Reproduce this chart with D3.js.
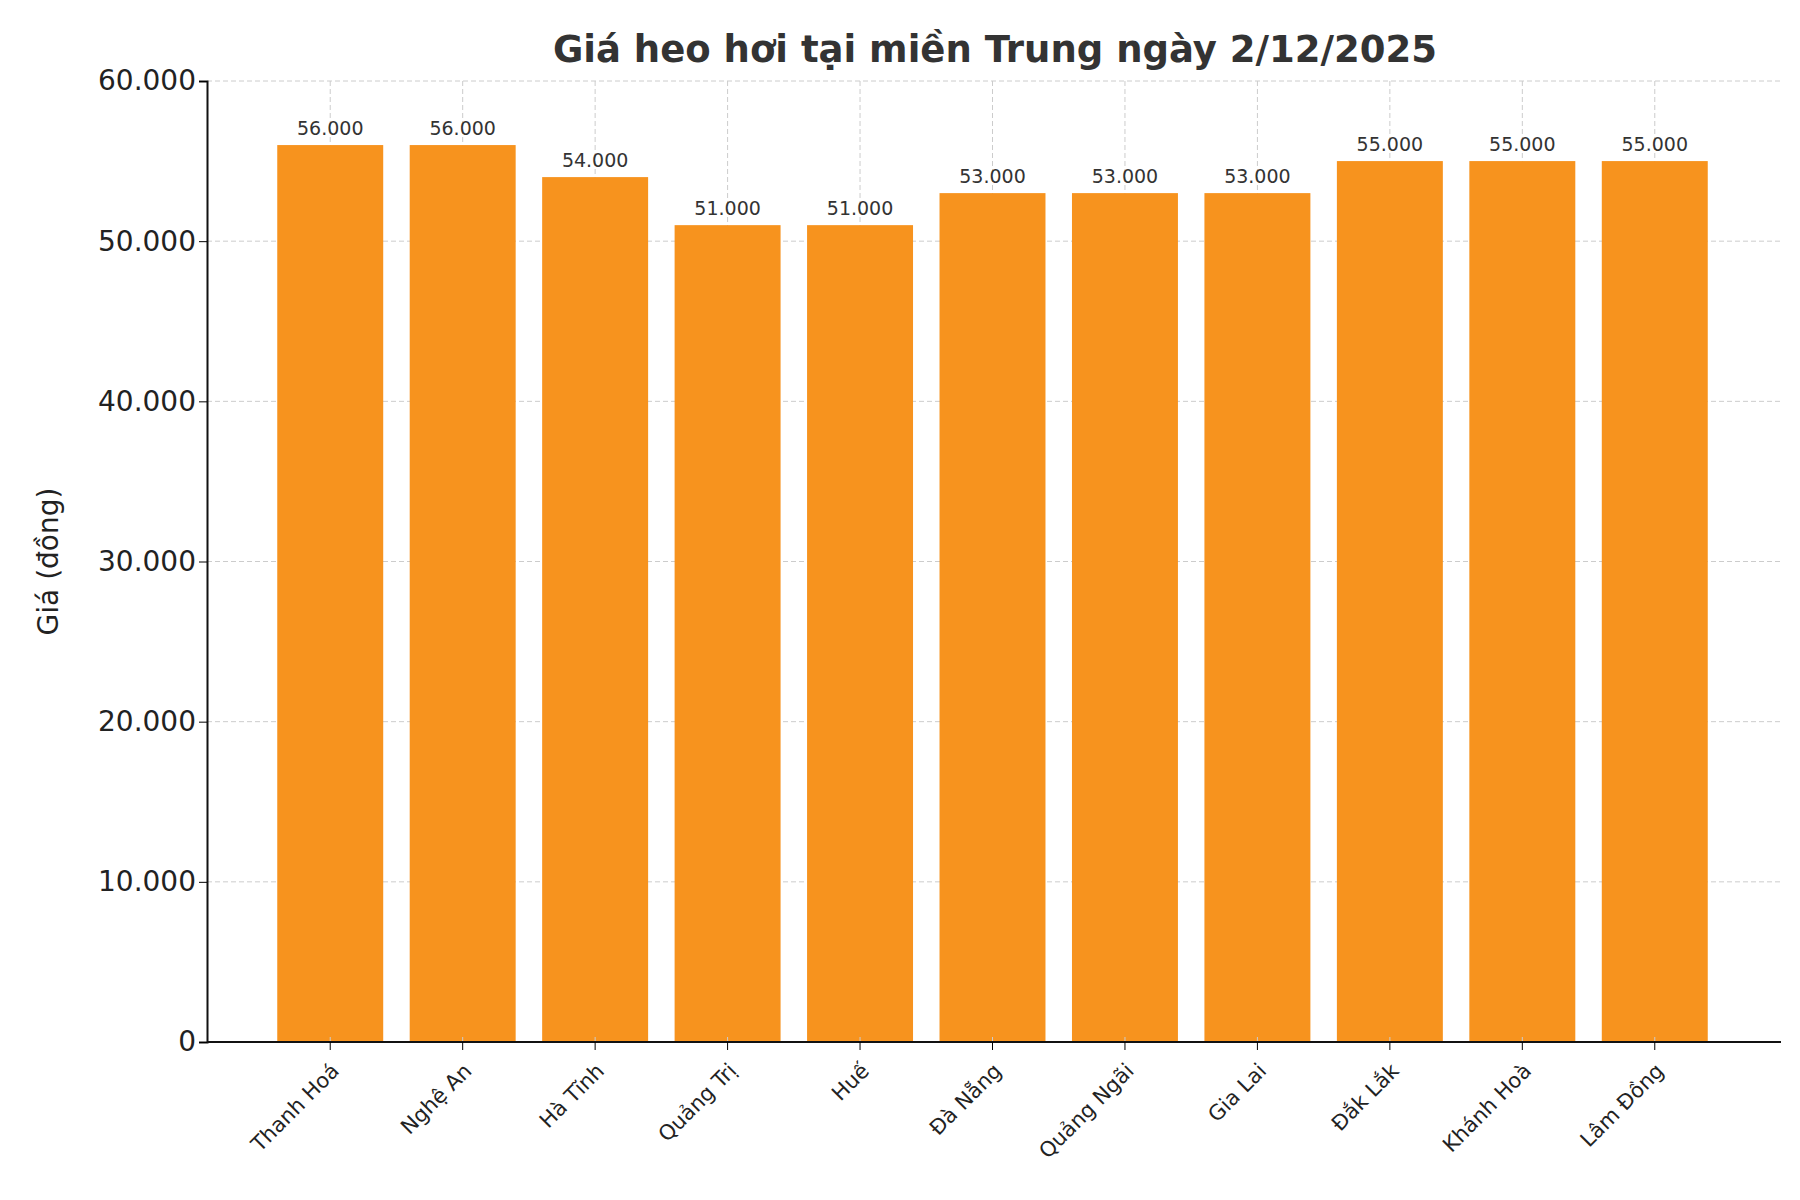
<!DOCTYPE html>
<html><head><meta charset="utf-8">
<script src="https://cdn.jsdelivr.net/npm/d3@7"></script>
<style>body{margin:0;background:#fff}</style></head>
<body><svg id="c" width="1800" height="1200"></svg>
<script>
const categories=["Thanh Hoá","Nghệ An","Hà Tĩnh","Quảng Trị","Huế","Đà Nẵng","Quảng Ngãi","Gia Lai","Đắk Lắk","Khánh Hoà","Lâm Đồng"];
const values=[56000,56000,54000,51000,51000,53000,53000,53000,55000,55000,55000];
const yTicks=[0,10000,20000,30000,40000,50000,60000];
const fmt=v=>d3.format(",")(v).replace(/,/g,".");
const svg=d3.select("#c"),F="DejaVu Sans",L=207,R=1781,T=81,B=1042;
const x=d3.scaleBand().domain(categories).range([264,1721]).paddingInner(0.2).paddingOuter(0.1);
const y=d3.scaleLinear().domain([0,60000]).range([B,T]);
const g=svg.append("g");
g.selectAll(".hg").data(yTicks).join("line").attr("x1",L).attr("x2",R).attr("y1",d=>y(d)).attr("y2",d=>y(d)).attr("stroke","#ccc").attr("stroke-dasharray","5,3");
g.selectAll(".vg").data(categories).join("line").attr("x1",d=>x(d)+x.bandwidth()/2).attr("x2",d=>x(d)+x.bandwidth()/2).attr("y1",T).attr("y2",B).attr("stroke","#ccc").attr("stroke-dasharray","5,3");
svg.append("g").selectAll("rect").data(values).join("rect").attr("x",(d,i)=>x(categories[i])).attr("width",x.bandwidth()).attr("y",d=>y(d)).attr("height",d=>B-y(d)).attr("fill","#f7931e");
svg.append("g").selectAll("line").data(categories).join("line").attr("x1",d=>x(d)+x.bandwidth()/2).attr("x2",d=>x(d)+x.bandwidth()/2).attr("y1",d=>y(0)).attr("y2",d=>y(0)-8).attr("stroke","#ccc").attr("stroke-dasharray","5,3");
svg.append("g").selectAll("text").data(values).join("text").attr("x",(d,i)=>x(categories[i])+x.bandwidth()/2).attr("y",d=>y(d)-10).attr("text-anchor","middle").attr("font-family",F).attr("font-size",19).attr("fill","#333").text(fmt);
const ya=svg.append("g").attr("transform",`translate(${L},0)`).call(d3.axisLeft(y).tickValues(yTicks).tickFormat(fmt).tickSize(8));
ya.selectAll("text").attr("font-family",F).attr("font-size",28).attr("fill","#222");
ya.select(".domain").attr("stroke","#111").attr("stroke-width",2);
const xa=svg.append("g").attr("transform",`translate(0,${B})`).call(d3.axisBottom(x).tickSize(8).tickSizeOuter(0));
xa.select(".domain").attr("d",`M${L},0H${R}`).attr("stroke","#111").attr("stroke-width",2);
xa.selectAll("text").attr("font-family",F).attr("font-size",21).attr("fill","#222").attr("text-anchor","end").attr("dy","0.3em").attr("transform","translate(-2,18) rotate(-45)");
svg.append("text").attr("x",(L+R)/2+1).attr("y",62).attr("text-anchor","middle").attr("font-family",F).attr("font-weight","bold").attr("font-size",37).attr("fill","#333").text("Giá heo hơi tại miền Trung ngày 2/12/2025");
svg.append("text").attr("transform",`translate(58,${(T+B)/2}) rotate(-90)`).attr("text-anchor","middle").attr("font-family",F).attr("font-size",28).attr("fill","#222").text("Giá (đồng)");
</script></body></html>
